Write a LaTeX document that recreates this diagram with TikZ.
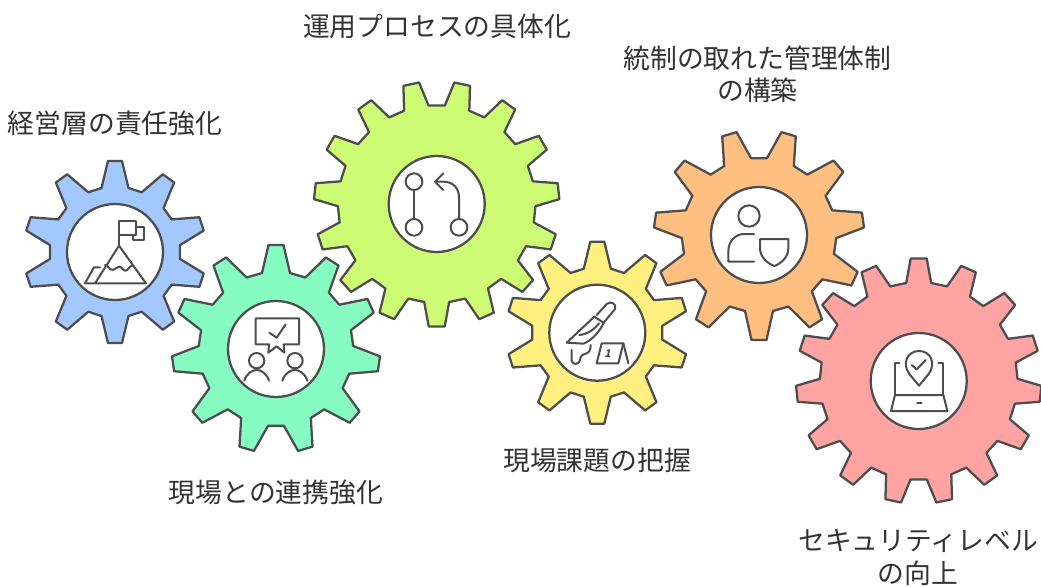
\documentclass[tikz,border=0pt]{standalone}
\usepackage{fontspec}
\setmainfont{Noto Sans CJK JP}
\definecolor{ink}{HTML}{4D4D4D}
\definecolor{txt}{HTML}{333333}
\definecolor{gblue}{HTML}{A3C8FF}
\definecolor{ggreen}{HTML}{86FBC2}
\definecolor{glime}{HTML}{CEFB74}
\definecolor{gyellow}{HTML}{FFF080}
\definecolor{gorange}{HTML}{FFBF80}
\definecolor{gpink}{HTML}{FFA3A3}
\tikzset{
  gearline/.style={draw=ink,line width=1.7pt,line join=round},
  holeline/.style={draw=ink,line width=1.7pt,fill=white},
  iconline/.style={draw=ink,line width=1.5pt,line join=round,line cap=round},
  label/.style={text=txt,font=\fontsize{20.1pt}{24pt}\selectfont,align=center,inner sep=0pt,anchor=center},
}
% #1 cx, #2 cy, #3 teeth, #4 axis angle of a tooth, #5 tip radius, #6 base radius,
% #7 tip half width, #8 base half width, #9 fill
\newcommand{\drawgear}[9]{%
  \pgfmathtruncatemacro{\gearlast}{#3-1}%
  \draw[gearline,fill=#9]
    ({#1+#6*cos(#4)+#8*sin(#4)},{#2+#6*sin(#4)-#8*cos(#4)})
    -- ({#1+#5*cos(#4)+#7*sin(#4)},{#2+#5*sin(#4)-#7*cos(#4)})
    -- ({#1+#5*cos(#4)-#7*sin(#4)},{#2+#5*sin(#4)+#7*cos(#4)})
    -- ({#1+#6*cos(#4)-#8*sin(#4)},{#2+#6*sin(#4)+#8*cos(#4)})
    \foreach \k [evaluate=\k as \a using #4+\k*360/#3] in {1,...,\gearlast}{
      -- ({#1+#6*cos(\a)+#8*sin(\a)},{#2+#6*sin(\a)-#8*cos(\a)})
      -- ({#1+#5*cos(\a)+#7*sin(\a)},{#2+#5*sin(\a)-#7*cos(\a)})
      -- ({#1+#5*cos(\a)-#7*sin(\a)},{#2+#5*sin(\a)+#7*cos(\a)})
      -- ({#1+#6*cos(\a)-#8*sin(\a)},{#2+#6*sin(\a)+#8*cos(\a)})
    } -- cycle;
  \draw[holeline] (#1,#2) circle (48);
}
\begin{document}
\begin{tikzpicture}[x=0.75pt,y=-0.75pt]
\useasboundingbox (0,0) rectangle (1041,586);
\fill[white] (0,0) rectangle (1041,586);

\drawgear{115}{252}{10}{-90}{91}{64}{7}{13.5}{gblue}
\drawgear{276}{349}{11}{-90}{104}{76}{7.5}{14}{ggreen}
\drawgear{436.7}{204}{15}{90}{122.5}{98}{8}{12.5}{glime}
\drawgear{597.3}{332.7}{10}{-90}{91}{64}{7}{13.5}{gyellow}
\drawgear{759}{235}{11}{90}{105}{76}{7.5}{14}{gorange}
\drawgear{918.7}{381}{15}{-90}{122.5}{98}{8}{12.5}{gpink}

% mountain and flags
\begin{scope}[shift={(20,150)},x=0.25pt,y=-0.25pt,iconline]
  \draw (298,287) -- (298,213) -- (347,213) -- (347,255) -- (298,255);
  \draw (347,230) -- (372,230) -- (372,270) -- (340,270) -- (340,255);
  \draw (195,400) -- (378,400) -- (297,287) -- (225,400);
  \draw (255,345) .. controls (265,345) and (268,360) .. (278,360)
        .. controls (288,360) and (288,350) .. (297,350)
        .. controls (306,350) and (308,362) .. (316,362)
        .. controls (325,362) and (327,347) .. (337,347);
  \draw (195,400) -- (222,352) -- (240,352);
\end{scope}

% people under a speech bubble
\begin{scope}[shift={(165,240)},x=0.25pt,y=-0.25pt,iconline]
  \draw (272,235) -- (402,235) -- (402,313) -- (356,313) -- (358,338) -- (335,319)
        -- (310,338) -- (312,313) -- (272,313) -- cycle;
  \draw (313,278) -- (335,293) -- (362,253);
  \draw (275,362) circle (23);
  \draw (390,362) circle (23);
  \draw (238,422) .. controls (245,400) and (262,390) .. (275,390)
        .. controls (288,390) and (305,400) .. (312,422);
  \draw (352,422) .. controls (359,400) and (376,390) .. (390,390)
        .. controls (403,390) and (420,400) .. (427,422);
\end{scope}

% process branches
\begin{scope}[shift={(310,75)},x=0.25pt,y=-0.25pt,iconline]
  \draw (312,320) circle (25);
  \draw (312,457) circle (25);
  \draw (447,457) circle (25);
  \draw (312,345) -- (312,432);
  \draw (447,432) -- (447,368) .. controls (447,338) and (428,320) .. (400,320) -- (375,320);
  \draw (400,295) -- (375,320) -- (400,345);
\end{scope}

% knife and evidence marker
\begin{scope}[shift={(500,235)},x=0.25pt,y=-0.25pt,iconline]
  \draw (290,240) -- (320,207) .. controls (330,197) and (352,205) .. (345,222) -- (312,262);
  \draw (283,245) -- (312,264);
  \draw (283,245) -- (200,323) -- (250,326) .. controls (278,315) and (298,290) .. (312,262);
  \draw (238,300) .. controls (262,298) and (282,284) .. (297,265);
  \draw (215,345) -- (215,378) .. controls (218,390) and (238,390) .. (240,375)
        .. controls (241,362) and (248,358) .. (258,356) .. controls (268,352) and (272,345) .. (272,330);
  \draw (305,325) -- (370,325) -- (355,385) -- (290,385) -- cycle;
  \draw (370,325) -- (385,385);
  \node[inner sep=0pt,text=ink,xslant=0.2,font=\fontsize{8pt}{8pt}\selectfont\bfseries] (markerone) at (325,356) {1};
\end{scope}

% person and shield
\begin{scope}[shift={(645,125)},x=0.25pt,y=-0.25pt,iconline]
  \draw (312,273) circle (32);
  \draw (327,327) -- (298,327) .. controls (270,327) and (250,350) .. (250,378) -- (250,410) -- (327,410);
  \draw (345,342) -- (430,342) -- (430,370) .. controls (430,395) and (410,415) .. (388,423)
        .. controls (366,415) and (345,395) .. (345,370) -- cycle;
\end{scope}

% laptop with pin
\begin{scope}[shift={(790,250)},x=0.25pt,y=-0.25pt,iconline]
  \draw (387,407) -- (358,372) .. controls (335,340) and (352,303) .. (387,303)
        .. controls (422,303) and (439,340) .. (416,372) -- cycle;
  \draw (365,345) -- (380,358) -- (407,330);
  \draw (328,340) -- (315,340) -- (315,435);
  \draw (445,340) -- (460,340) -- (460,435);
  \draw (315,435) -- (460,435) -- (472,483) -- (303,483) -- cycle;
  \draw (381,460) -- (395,460);
\end{scope}

\node[label] (t1) at (115,123) {経営層の責任強化};
\node[label] (t2) at (276,492) {現場との連携強化};
\node[label] (t3) at (437,26) {運用プロセスの具体化};
\node[label] (t4) at (597,460) {現場課題の把握};
\node[label] (t5a) at (757.5,58) {統制の取れた管理体制};
\node[label] (t5b) at (757.5,90) {の構築};
\node[label] (t6a) at (918,541) {セキュリティレベル};
\node[label] (t6b) at (918,573) {の向上};
\end{tikzpicture}
\end{document}
